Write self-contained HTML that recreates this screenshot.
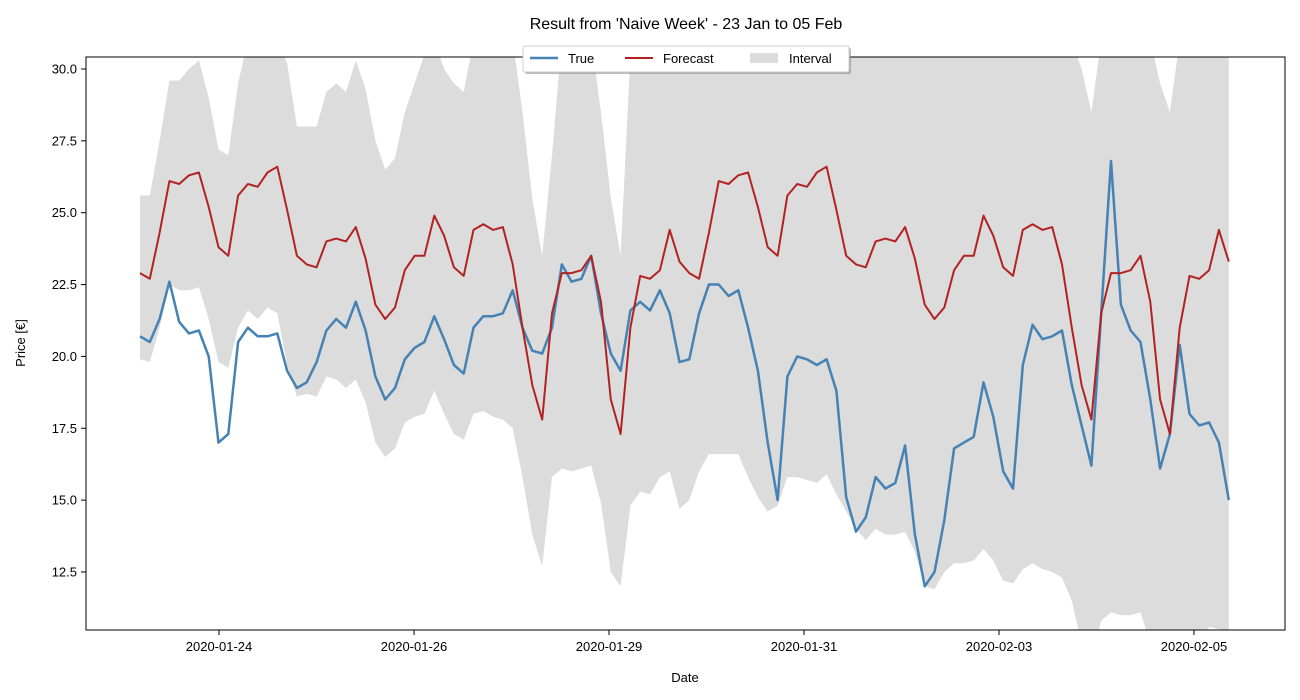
<!DOCTYPE html>
<html><head><meta charset="utf-8"><style>
body{margin:0;background:#fff;}
svg{display:block;font-family:"Liberation Sans","DejaVu Sans",sans-serif;}
</style></head><body>
<svg id="chart" width="1300" height="700" xmlns="http://www.w3.org/2000/svg">
<defs><clipPath id="plotclip"><rect x="86" y="57" width="1199" height="573"/></clipPath></defs>
<text x="686" y="29" font-size="16" text-anchor="middle">Result from 'Naive Week' - 23 Jan to 05 Feb</text>
<g id="plot" clip-path="url(#plotclip)"></g>
<rect x="86" y="57" width="1199" height="573" fill="none" stroke="#000" stroke-width="1"/>
<g id="xticks"></g>
<g id="yticks"></g>
<text x="685" y="682" font-size="13" text-anchor="middle">Date</text>
<text x="25" y="343" font-size="13" text-anchor="middle" transform="rotate(-90 25 343)">Price [€]</text>
<g>
<rect x="525" y="48" width="326" height="26" rx="2" fill="#888" opacity="0.6"/>
<rect x="523" y="46" width="326" height="26" rx="2" fill="#fff" stroke="#ccc"/>
<line x1="530" y1="58" x2="558" y2="58" stroke="#4682b4" stroke-width="2.5"/>
<text x="568" y="63" font-size="13">True</text>
<line x1="625" y1="58" x2="653" y2="58" stroke="#b22222" stroke-width="2"/>
<text x="663" y="63" font-size="13">Forecast</text>
<rect x="750" y="53" width="28" height="10" fill="#dcdcdc"/>
<text x="789" y="63" font-size="13">Interval</text>
</g>
</svg>
<script>
const hoursStep = 335/111;
const forecastWeek = [22.9,22.7,24.3,26.1,26.0,26.3,26.4,25.2,23.8,23.5,25.6,26.0,25.9,26.4,26.6,25.1,23.5,23.2,23.1,24.0,24.1,24.0,24.5,23.4,21.8,21.3,21.7,23.0,23.5,23.5,24.9,24.2,23.1,22.8,24.4,24.6,24.4,24.5,23.2,21.0,19.0,17.8,21.5,22.9,22.9,23.0,23.5,21.9,18.5,17.3,21.0,22.8,22.7,23.0,24.4,23.3];
const forecastValues = forecastWeek.concat(forecastWeek);
const trueValues = [20.7,20.5,21.3,22.6,21.2,20.8,20.9,20.0,17.0,17.3,20.5,21.0,20.7,20.7,20.8,19.5,18.9,19.1,19.8,20.9,21.3,21.0,21.9,20.9,19.3,18.5,18.9,19.9,20.3,20.5,21.4,20.6,19.7,19.4,21.0,21.4,21.4,21.5,22.3,21.0,20.2,20.1,21.0,23.2,22.6,22.7,23.5,21.5,20.1,19.5,21.6,21.9,21.6,22.3,21.5,19.8,19.9,21.5,22.5,22.5,22.1,22.3,21.0,19.5,17.0,15.0,19.3,20.0,19.9,19.7,19.9,18.8,15.1,13.9,14.4,15.8,15.4,15.6,16.9,13.8,12.0,12.5,14.3,16.8,17.0,17.2,19.1,17.9,16.0,15.4,19.7,21.1,20.6,20.7,20.9,19.0,17.6,16.2,21.5,26.8,21.8,20.9,20.5,18.5,16.1,17.3,20.4,18.0,17.6,17.7,17.0,15.0];
const upperValues = [25.6,25.6,27.5,29.6,29.6,30.0,30.3,29.0,27.2,27.0,29.5,31,31,31,31,30.2,28.0,28.0,28.0,29.2,29.5,29.2,30.3,29.3,27.5,26.5,26.9,28.5,29.5,30.5,31,30.0,29.5,29.2,31,31,31,31,31,28.5,25.5,23.5,27,31,31,31,31,28.5,25.5,23.5,30.5,31,31,31,31,31,31,31,31,31,31,31,31,31,31,31,31,31,31,31,31,31,31,31,31,31,31,31,31,31,31,31,31,31,31,31,31,31,31,31,31,31,31,31,31,31,30,28.5,31,31,31,31,31,31,29.5,28.5,31,31,31,31,31,31];
const lowerValues = [19.9,19.8,21.0,22.5,22.3,22.3,22.4,21.3,19.8,19.6,21.0,21.6,21.3,21.7,21.5,19.7,18.6,18.7,18.6,19.3,19.2,18.9,19.2,18.4,17.0,16.5,16.8,17.7,17.9,18.0,18.8,18.0,17.3,17.1,18.0,18.1,17.9,17.8,17.5,15.8,13.8,12.7,15.8,16.1,16.0,16.1,16.2,14.9,12.5,12.0,14.8,15.3,15.2,15.8,16.0,14.7,15.0,16.0,16.6,16.6,16.6,16.6,15.8,15.1,14.6,14.8,15.8,15.8,15.7,15.6,15.9,15.2,14.6,14.0,13.6,14.0,13.8,13.8,13.9,13.2,12.0,11.9,12.5,12.8,12.8,12.9,13.3,12.9,12.2,12.1,12.6,12.8,12.6,12.5,12.3,11.5,10.0,9.5,10.8,11.1,11.0,11.0,11.1,10.0,9.0,9.0,9.0,9.0,9.5,10.6,10.5,10.3];
const xTickLabels = ["2020-01-24","2020-01-26","2020-01-29","2020-01-31","2020-02-03","2020-02-05"];
const xTickHours = [24,84,144,204,264,324];
const yTickValues = [12.5,15.0,17.5,20.0,22.5,25.0,27.5,30.0];

const NS = "http://www.w3.org/2000/svg";
function xScale(h){ return 140 + h * 3.25; }
function yScale(v){ return 69 + (30 - v) * 28.74; }
function pathFrom(vals){ return vals.map((v,i)=>(i?'L':'M')+xScale(i*hoursStep).toFixed(1)+','+yScale(v).toFixed(1)).join(''); }

const plot = document.getElementById('plot');
let d = 'M' + upperValues.map((v,i)=>xScale(i*hoursStep).toFixed(1)+','+yScale(v).toFixed(1)).join('L');
for (let i = lowerValues.length-1; i >= 0; i--) d += 'L' + xScale(i*hoursStep).toFixed(1) + ',' + yScale(lowerValues[i]).toFixed(1);
d += 'Z';
const band = document.createElementNS(NS,'path');
band.setAttribute('d', d); band.setAttribute('fill', '#dcdcdc');


plot.appendChild(band);

const tl = document.createElementNS(NS,'path');
tl.setAttribute('d', pathFrom(trueValues)); tl.setAttribute('fill','none'); tl.setAttribute('stroke','#4682b4'); tl.setAttribute('stroke-width','2.5'); tl.setAttribute('stroke-linejoin','round');


plot.appendChild(tl);

const fl = document.createElementNS(NS,'path');
fl.setAttribute('d', pathFrom(forecastValues)); fl.setAttribute('fill','none'); fl.setAttribute('stroke','#b22222'); fl.setAttribute('stroke-width','2'); fl.setAttribute('stroke-linejoin','round');


plot.appendChild(fl);

const xg = document.getElementById('xticks');
xTickLabels.forEach((lab,i)=>{
  const x = xScale(xTickHours[i]) + 1;
  const t = document.createElementNS(NS,'line');
  t.setAttribute('x1',x); t.setAttribute('x2',x); t.setAttribute('y1',630); t.setAttribute('y2',635); t.setAttribute('stroke','#000');
  
  
  xg.appendChild(t);
  const tx = document.createElementNS(NS,'text');
  tx.setAttribute('x',x); tx.setAttribute('y',651); tx.setAttribute('font-size','13'); tx.setAttribute('text-anchor','middle');
  tx.textContent = lab;
  
  
  xg.appendChild(tx);
});
const yg = document.getElementById('yticks');
yTickValues.forEach(v=>{
  const y = yScale(v);
  const t = document.createElementNS(NS,'line');
  t.setAttribute('x1',81); t.setAttribute('x2',86); t.setAttribute('y1',y); t.setAttribute('y2',y); t.setAttribute('stroke','#000');
  
  
  yg.appendChild(t);
  const tx = document.createElementNS(NS,'text');
  tx.setAttribute('x',77); tx.setAttribute('y',y+4.5); tx.setAttribute('font-size','13'); tx.setAttribute('text-anchor','end');
  tx.textContent = v.toFixed(1);
  
  
  yg.appendChild(tx);
});
</script>
</body></html>
